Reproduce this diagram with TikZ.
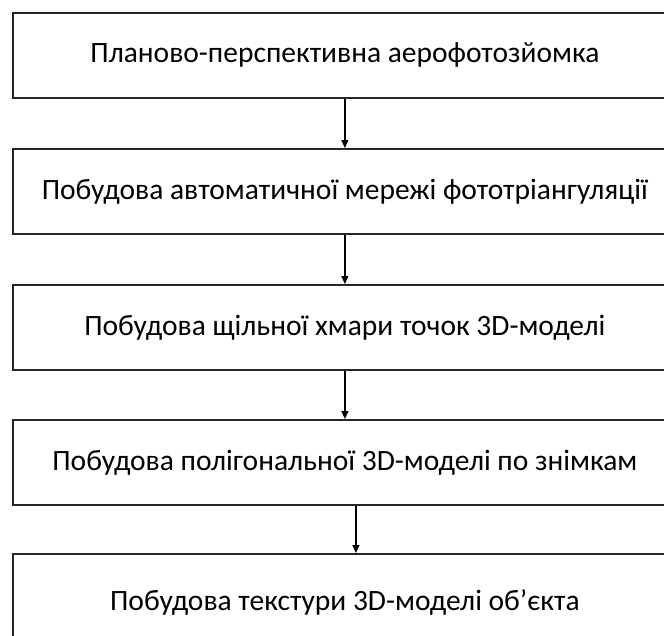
\documentclass[tikz,border=0pt]{standalone}
\usepackage{fontspec}
\setmainfont{Carlito}
\usetikzlibrary{arrows.meta}
\begin{document}
\begin{tikzpicture}[x=1pt,y=1pt,
  stepbox/.style={draw=black!85, line width=1.8pt, minimum width=664pt,
    minimum height=85pt, inner sep=0pt, anchor=north west,
    font=\fontsize{29.5}{35}\selectfont},
  conn/.style={-{Triangle[length=8pt,width=7pt]}, line width=1.2pt, black}]
\useasboundingbox (0,0) rectangle (664,-635);
\clip (0,0) rectangle (664,-635);
\node[stepbox] (b1) at (12,-12) {Планово-перспективна аерофотозйомка};
\node[stepbox] (b2) at (12,-148) {Побудова автоматичної мережі фототріангуляції};
\node[stepbox] (b3) at (12,-284) {Побудова щільної хмари точок 3D-моделі};
\node[stepbox] (b4) at (12,-419) {Побудова полігональної 3D-моделі по знімкам};
\node[stepbox, minimum height=98pt] (b5) at (12,-553) {Побудова текстури 3D-моделі об’єкта};
\draw[conn] (b1.south) -- (b2.north);
\draw[conn] (b2.south) -- (b3.north);
\draw[conn] (b3.south) -- (b4.north);
\draw[conn] ([xshift=11pt]b4.south) -- ([xshift=11pt]b5.north);
\end{tikzpicture}
\end{document}
